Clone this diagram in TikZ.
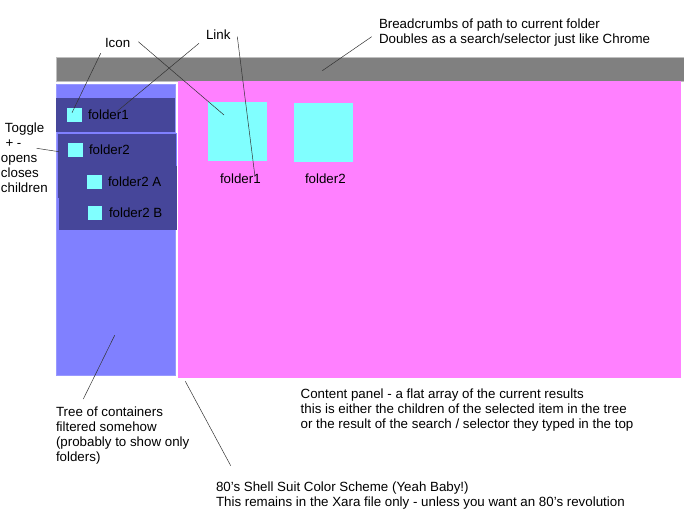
\documentclass[tikz,border=0pt]{standalone}
\usepackage{fontspec}
\setmainfont{Liberation Sans}
\usetikzlibrary{positioning}
\definecolor{shellgrey}{RGB}{128,128,128}
\definecolor{shellpink}{RGB}{255,128,255}
\definecolor{shellblue}{RGB}{128,128,255}
\definecolor{shelldark}{RGB}{70,70,154}
\definecolor{shellcyan}{RGB}{128,255,255}
\tikzset{
    panel/.style={rectangle, inner sep=0pt, outer sep=0pt},
    rowbox/.style={panel, fill=shelldark},
    iconbox/.style={panel, fill=shellcyan},
    caption/.style={inner sep=0pt, outer sep=0pt, anchor=base west, align=left,
        font=\fontsize{13.33pt}{15pt}\selectfont},
    pointer/.style={draw=black!80, line width=0.5pt}
}
\begin{document}
\begin{tikzpicture}[x=1pt,y=-1pt]
    \useasboundingbox (0,0) rectangle (684,510);

    % Panels
    \node[panel, fill=shellgrey, draw=black!25, line width=0.4pt, minimum width=627.5pt, minimum height=24pt] (crumbs) at (370,69.3) {};
    \node[panel, fill=shellpink, minimum width=503pt, minimum height=296.7pt] (content) at (429.5,229.3) {};
    \node[panel, fill=shellblue, draw=shellblue!80, line width=0.4pt, minimum width=119.5pt, minimum height=290pt] (tree) at (115.5,229.7) {};

    % Tree rows
    \foreach \name/\x/\y/\w/\h in {
        rowa/115.5/115.2/119/33.7,
        rowb/116.8/149.5/119/33,
        rowc/117/182/119/33,
        rowd/117.8/213.5/118.5/33
    } {
        \node[rowbox, minimum width=\w pt, minimum height=\h pt] (\name) at (\x,\y) {};
    }
    \draw[shellblue, line width=0.4pt] (rowb.south west) -- (rowb.north west) -- (rowb.north east) -- (rowb.south east);

    % Icons and their labels
    \foreach \name/\x/\y/\lx/\text in {
        icona/74.5/115/88/folder1,
        iconb/75.5/150.3/89/folder2,
        iconc/94.5/182.3/108/folder2 A,
        icond/95.3/213/109/folder2 B
    } {
        \node[iconbox, minimum size=14.2pt] (\name) at (\x,\y) {};
        \node[caption] (\name text) at (\lx,\y+4.5) {\text};
    }
    \foreach \name/\x/\y/\lx/\text in {
        biga/237.7/131.7/220/folder1,
        bigb/323.8/132.7/305/folder2
    } {
        \node[iconbox, minimum size=58.8pt] (\name) at (\x,\y) {};
        \node[caption] (\name text) at (\lx,183.2) {\text};
    }

    % Notes
    \node[caption] (noteicon) at (105,47.5) {Icon};
    \node[caption] (notelink) at (206,39.5) {Link};
    \node[caption] (notecrumbs) at (379,43.3) {Breadcrumbs of path to current folder\\Doubles as a search/selector just like Chrome};
    \foreach \name/\x/\y/\text in {
        togglea/5/133/Toggle,
        toggleb/5.5/148/{+ -},
        togglec/1/163/opens,
        toggled/1/177.5/closes,
        togglee/1/192.5/children
    } {
        \node[caption] (\name) at (\x,\y) {\text};
    }
    \node[caption] (notetree) at (56,461) {Tree of containers\\filtered somehow\\(probably to show only\\folders)};
    \node[caption] (notecontent) at (300.7,428) {Content panel - a flat array of the current results\\this is either the children of the selected item in the tree\\or the result of the search / selector they typed in the top};
    \node[caption] (notecolor) at (216,506.5) {80’s Shell Suit Color Scheme (Yeah Baby!)\\This remains in the Xara file only - unless you want an 80’s revolution};

    % Pointer ends
    \coordinate (iconfrom) at (100.7,53.3);
    \coordinate (iconto) at (72,112.7);
    \coordinate (bigfrom) at (138.3,41.7);
    \coordinate (bigto) at (224,115);
    \coordinate (linkfrom) at (199,43.3);
    \coordinate (linkto) at (116.7,111.7);
    \coordinate (bigfrom2) at (237.3,36.7);
    \coordinate (bigto2) at (255,176.7);
    \coordinate (togglefrom) at (36.7,148.3);
    \coordinate (toggleto) at (59,151.7);
    \coordinate (treefrom) at (83.3,399);
    \coordinate (treeto) at (114.7,335.3);
    \coordinate (colorfrom) at (230.7,465.7);
    \coordinate (colorto) at (185.3,381.3);
    \coordinate (crumbsfrom) at (371.7,36.7);
    \coordinate (crumbsto) at (322.3,70.7);

    % Pointers
    \foreach \a/\b in {iconfrom/iconto, bigfrom/bigto, linkfrom/linkto, bigfrom2/bigto2,
        togglefrom/toggleto, treefrom/treeto, colorfrom/colorto, crumbsfrom/crumbsto} {
        \draw[pointer] (\a) -- (\b);
    }
\end{tikzpicture}
\end{document}
